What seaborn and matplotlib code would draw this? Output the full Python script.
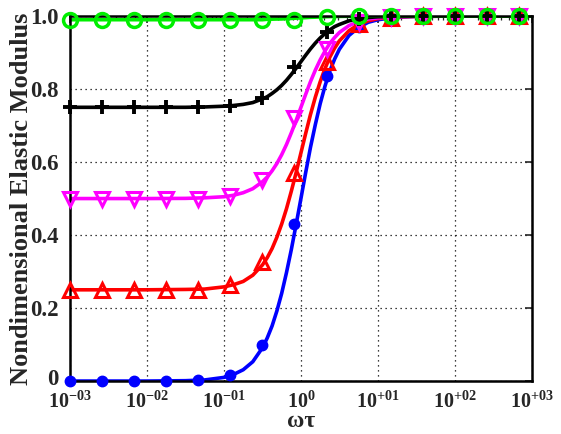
import numpy as np
import pandas as pd
import matplotlib
matplotlib.use("Agg")
import matplotlib.pyplot as plt
import matplotlib.transforms as mtransforms
import seaborn as sns
from matplotlib.ticker import LogLocator, FixedLocator, NullFormatter

# ---------------- data ----------------
x_line = [0.001, 0.01, 0.0316, 0.0562, 0.1, 0.133, 0.178, 0.237, 0.316, 0.365, 0.422,
          0.487, 0.562, 0.649, 0.750, 0.866, 1.0, 1.155, 1.33, 1.54, 1.78, 2.054, 2.37,
          2.738, 3.16, 4.22, 5.62, 7.50, 10.0, 17.8, 31.6, 100.0, 1000.0]
blue_line = [0.0, 0.0, 0.001, 0.003, 0.010, 0.018, 0.031, 0.053, 0.091, 0.118, 0.151,
             0.192, 0.240, 0.297, 0.360, 0.429, 0.500, 0.572, 0.640, 0.703, 0.760, 0.808, 0.849,
             0.882, 0.909, 0.947, 0.969, 0.983, 0.990, 0.997, 0.999, 1.0, 1.0]
red_line = [0.25, 0.25, 0.251, 0.252, 0.258, 0.264, 0.273, 0.290, 0.318, 0.338, 0.363,
            0.394, 0.430, 0.472, 0.520, 0.571, 0.625, 0.679, 0.730, 0.778, 0.820, 0.856, 0.887,
            0.912, 0.932, 0.960, 0.977, 0.987, 0.993, 0.998, 0.999, 1.0, 1.0]
magenta_line = [0.5, 0.5, 0.5005, 0.502, 0.505, 0.509, 0.516, 0.527, 0.546, 0.559, 0.576,
                0.596, 0.620, 0.648, 0.680, 0.714, 0.750, 0.786, 0.820, 0.852, 0.880, 0.904, 0.925,
                0.941, 0.955, 0.974, 0.985, 0.992, 0.995, 0.998, 1.0, 1.0, 1.0]
black_line = [0.75, 0.75, 0.75, 0.751, 0.753, 0.755, 0.758, 0.763, 0.773, 0.779, 0.788,
              0.798, 0.810, 0.824, 0.840, 0.857, 0.875, 0.893, 0.910, 0.926, 0.940, 0.952, 0.962,
              0.971, 0.977, 0.987, 0.992, 0.996, 0.998, 0.999, 1.0, 1.0, 1.0]
green_line = [0.99, 0.99, 0.99, 0.99, 0.99, 0.99, 0.99, 0.99, 0.99, 0.9912, 0.9915,
              0.9919, 0.992, 0.993, 0.9934, 0.9943, 0.995, 0.9957, 0.9966, 0.997, 0.9976, 0.9981, 0.9985,
              0.9988, 0.9991, 0.9995, 0.9997, 0.9998, 0.9999, 1.0, 1.0, 1.0, 1.0]

x_mark = [0.001, 0.00261, 0.00681, 0.0178, 0.0464, 0.121, 0.316, 0.825, 2.154,
          5.62, 14.7, 38.3, 100.0, 261.0, 681.0]
blue_mark = [0.0, 0.0, 0.0, 0.0, 0.002, 0.017, 0.10, 0.43, 0.835, 0.97, 0.995, 1.0, 1.0, 1.0, 1.0]
red_mark = [0.25, 0.25, 0.25, 0.25, 0.25, 0.262, 0.326, 0.57, 0.874, 0.977, 0.996, 1.0, 1.0, 1.0, 1.0]
magenta_mark = [0.5, 0.5, 0.5, 0.5, 0.5, 0.507, 0.55, 0.72, 0.91, 0.985, 0.997, 1.0, 1.0, 1.0, 1.0]
black_mark = [0.75, 0.75, 0.75, 0.75, 0.75, 0.754, 0.775, 0.86, 0.955, 0.992, 0.999, 1.0, 1.0, 1.0, 1.0]
green_mark = [0.99, 0.99, 0.99, 0.99, 0.99, 0.99, 0.99, 0.99, 0.998, 1.0, 1.0, 1.0, 1.0, 1.0, 1.0]

x_ticks = [1e-3, 1e-2, 1e-1, 1e0, 1e1, 1e2, 1e3]
x_ticklabels = [r"$\mathregular{10^{-03}}$", r"$\mathregular{10^{-02}}$",
                r"$\mathregular{10^{-01}}$", r"$\mathregular{10^{0}}$",
                r"$\mathregular{10^{+01}}$", r"$\mathregular{10^{+02}}$",
                r"$\mathregular{10^{+03}}$"]
y_ticks = [0, 0.2, 0.4, 0.6, 0.8, 1.0]
y_ticklabels = ["0", "0.2", "0.4", "0.6", "0.8", "1.0"]

# ---------------- style ----------------
sns.set_theme(style="white")
plt.rcParams["font.family"] = ["Liberation Serif", "DejaVu Serif"]
plt.rcParams["font.weight"] = "bold"
plt.rcParams["mathtext.fontset"] = "custom"
plt.rcParams["mathtext.rm"] = "Liberation Serif:bold"
plt.rcParams["mathtext.bf"] = "Liberation Serif:bold"
plt.rcParams["mathtext.it"] = "Liberation Serif:bold:italic"

fig = plt.figure(figsize=(5.61, 4.34), dpi=100)
ax = fig.add_axes([0.1248, 0.122, 0.8232, 0.841])

series = [
    ("blue", blue_line, blue_mark, dict(marker="o", markersize=7.5, markerfacecolor="blue",
                                        markeredgecolor="blue", markeredgewidth=1)),
    ("red", red_line, red_mark, dict(marker="^", markersize=10, markerfacecolor="none",
                                     markeredgecolor="red", markeredgewidth=2.2)),
    ("magenta", magenta_line, magenta_mark, dict(marker="v", markersize=10, markerfacecolor="none",
                                                 markeredgecolor="magenta", markeredgewidth=2.2)),
    ("black", black_line, black_mark, dict(marker="+", markersize=10, markeredgecolor="black",
                                           markeredgewidth=2.8)),
    ("#00ee00", green_line, green_mark, dict(marker="o", markersize=10, markerfacecolor="none",
                                             markeredgecolor="#00ee00", markeredgewidth=2.5)),
]

for color, yl, ym, mk in series:
    sns.lineplot(x=x_line, y=yl, ax=ax, color=color, lw=2.6, sort=True,
                 estimator=None, zorder=2)
    sns.lineplot(x=x_mark, y=ym, ax=ax, color=color, lw=0, linestyle="none",
                 estimator=None, zorder=3, clip_on=False, **mk)

ax.set_xscale("log")
ax.set_xlim(1e-3, 1e3)
ax.set_ylim(0, 1)
ax.xaxis.set_major_locator(FixedLocator(x_ticks))
ax.set_xticklabels(x_ticklabels)
ax.xaxis.set_minor_locator(LogLocator(base=10, subs=np.arange(2, 10), numticks=20))
ax.xaxis.set_minor_formatter(NullFormatter())
ax.set_yticks(y_ticks)
ax.set_yticklabels(y_ticklabels)

ax.tick_params(axis="both", which="major", direction="in", top=True, right=True,
               length=5, width=1.2)
ax.tick_params(axis="x", which="major", labelsize=14.5, pad=7.5)
ax.tick_params(axis="y", which="major", labelsize=16.5, pad=8)
ax.tick_params(axis="both", which="minor", direction="in", top=True, right=True,
               length=3, width=0.9)
for lab in ax.get_xticklabels() + ax.get_yticklabels():
    lab.set_fontweight("bold")

# nudge the "0" label up a little so it does not touch the 10^-03 label
zero_lab = ax.yaxis.get_major_ticks()[0].label1
zero_lab.set_transform(mtransforms.offset_copy(zero_lab.get_transform(), fig=fig,
                                                x=0, y=4, units="dots"))

ax.grid(True, which="major", linestyle=(0, (1, 3)), color="black", lw=0.9)
for sp in ax.spines.values():
    sp.set_linewidth(1.8)
    sp.set_color("black")

ax.set_xlabel("ωτ", fontsize=17, fontweight="bold", labelpad=-1.5)
ax.set_ylabel("Nondimensional Elastic Modulus", fontsize=19, fontweight="bold", labelpad=-2)

fig.savefig("out.png", dpi=100)
